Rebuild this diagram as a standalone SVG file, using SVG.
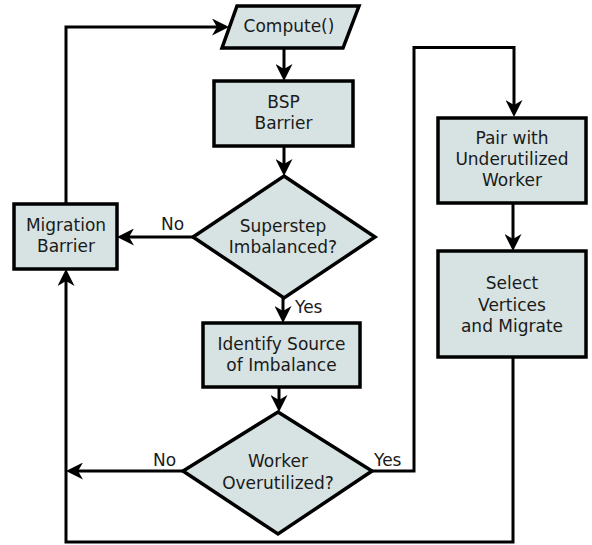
<svg xmlns="http://www.w3.org/2000/svg" width="592" height="545" viewBox="0 0 592 545">
<defs>
<style>
.n{fill:#d6e3e2;stroke:#000;stroke-width:3.5}
.t{font-family:"DejaVu Sans",sans-serif;font-size:17px;fill:#1a1a1a;text-anchor:middle}
.l{font-family:"DejaVu Sans",sans-serif;font-size:17px;fill:#1a1a1a}
.c{fill:none;stroke:#000;stroke-width:3;marker-end:url(#ah)}
</style>
<marker id="ah" markerUnits="userSpaceOnUse" viewBox="0 0 17 17" markerWidth="17" markerHeight="17" refX="5" refY="8.5" orient="auto">
<path d="M17,8.5 L0,0 L5,8.5 L0,17 Z" fill="#000"/>
</marker>
</defs>
<rect width="592" height="545" fill="#fff"/>
<g id="connectors">
<path class="c" d="M284,48 V69"/>
<path class="c" d="M284,146 V164"/>
<path class="c" d="M283,298 V311"/>
<path class="c" d="M279,387 V400"/>
<path class="c" d="M193,237 H129"/>
<path class="c" d="M66,204 V27 H217"/>
<path class="c" d="M183,471 H78"/>
<path class="c" d="M372,471 H414 V47.5 H514 V105"/>
<path class="c" d="M513,203 V239"/>
<path class="c" d="M513,357 V542 H66 V281"/>
</g>
<g id="compute">
<polygon class="n" points="237,6 359,6 343,48 222,48"/>
<text class="t" x="289" y="32">Compute()</text>
</g>
<g id="bsp">
<rect class="n" x="214" y="81" width="139" height="65"/>
<text class="t" x="283.5" y="108">BSP</text>
<text class="t" x="283.5" y="129">Barrier</text>
</g>
<g id="superstep">
<polygon class="n" points="284,176 375,237 284,298 193,237"/>
<text class="t" x="283" y="232">Superstep</text>
<text class="t" x="283" y="253">Imbalanced?</text>
</g>
<g id="migration">
<rect class="n" x="14" y="204" width="103" height="65"/>
<text class="t" x="66" y="231">Migration</text>
<text class="t" x="66" y="252">Barrier</text>
</g>
<g id="identify">
<rect class="n" x="203" y="323" width="157" height="64"/>
<text class="t" x="281.5" y="350">Identify Source</text>
<text class="t" x="281.5" y="371">of Imbalance</text>
</g>
<g id="worker">
<polygon class="n" points="278,412 372,471 278,534 183,471"/>
<text class="t" x="278" y="467">Worker</text>
<text class="t" x="278" y="489">Overutilized?</text>
</g>
<g id="pair">
<rect class="n" x="438" y="118" width="148" height="85"/>
<text class="t" x="512" y="144">Pair with</text>
<text class="t" x="512" y="165">Underutilized</text>
<text class="t" x="512" y="186">Worker</text>
</g>
<g id="select">
<rect class="n" x="438" y="251" width="148" height="106"/>
<text class="t" x="512" y="289">Select</text>
<text class="t" x="512" y="311">Vertices</text>
<text class="t" x="512" y="332">and Migrate</text>
</g>
<g id="labels">
<text class="l" x="161" y="230">No</text>
<text class="l" x="295" y="313">Yes</text>
<text class="l" x="153" y="466">No</text>
<text class="l" x="374" y="466">Yes</text>
</g>
</svg>
